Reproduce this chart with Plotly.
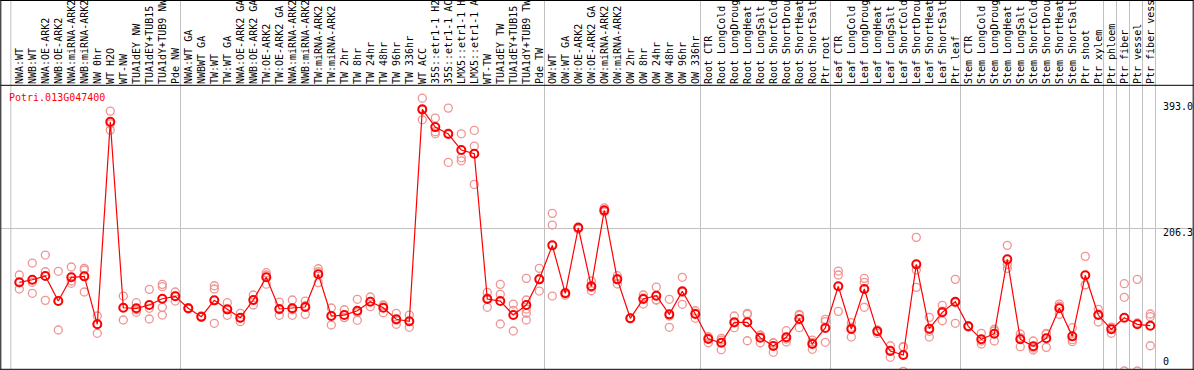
import plotly.graph_objects as go

# ---------------- data ----------------
gene_id = "Potri.013G047400"

categories = [
    "NWA:WT", "NWB:WT", "NWA:OE-ARK2", "NWB:OE-ARK2", "NWA:miRNA-ARK2", "NWB:miRNA-ARK2",
    "NW 0hr", "WT H2O", "WT-NW", "TUA1dEY NW", "TUA1dEY+TUB15", "TUA1dY+TUB9 NW", "Pde NW",
    "NWA:WT GA", "NWBWT GA", "TW:WT", "TW:WT GA", "NWA:OE-ARK2 GA", "NWB:OE-ARK2 GA",
    "TW:OE-ARK2", "TW:OE-ARK2 GA", "NWA:miRNA-ARK2", "NWB:miRNA-ARK2", "TW:miRNA-ARK2",
    "TW:miRNA-ARK2", "TW 2hr", "TW 8hr", "TW 24hr", "TW 48hr", "TW 96hr", "TW 336hr",
    "WT ACC", "35S::etr1-1 H2", "35S::etr1-1 AC", "LMX5::etr1-1 H", "LMX5::etr1-1 A",
    "WT-TW", "TUA1dEY TW", "TUA1dEY+TUB15", "TUA1dY+TUB9 TW", "Pde TW",
    "OW:WT", "OW:WT GA", "OW:OE-ARK2", "OW:OE-ARK2 GA", "OW:miRNA-ARK2", "OW:miRNA-ARK2",
    "OW 2hr", "OW 8hr", "OW 24hr", "OW 48hr", "OW 96hr", "OW 336hr",
    "Root CTR", "Root LongCold", "Root LongDroug", "Root LongHeat", "Root LongSalt",
    "Root ShortCold", "Root ShortDrou", "Root ShortHeat", "Root ShortSalt", "Ptr root",
    "Leaf CTR", "Leaf LongCold", "Leaf LongDroug", "Leaf LongHeat", "Leaf LongSalt",
    "Leaf ShortCold", "Leaf ShortDrou", "Leaf ShortHeat", "Leaf ShortSalt", "Ptr leaf",
    "Stem CTR", "Stem LongCold", "Stem LongDroug", "Stem LongHeat", "Stem LongSalt",
    "Stem ShortCold", "Stem ShortDrou", "Stem ShortHeat", "Stem ShortSalt",
    "Ptr shoot", "Ptr xylem", "Ptr phloem", "Ptr fiber", "Ptr vessel", "Ptr fiber vess",
]

mean_values = [
    128.4, 132.1, 137.4, 101.5, 135.6, 137.0, 68.1, 359.1, 91.9, 91.1, 95.8, 104.8, 108.3,
    91.1, 79.0, 102.5, 89.6, 77.6, 103.0, 135.6, 90.1, 91.1, 92.9, 139.9, 80.0, 81.4, 87.6,
    100.5, 91.9, 75.3, 72.4, 376.9, 351.4, 341.4, 318.4, 313.1, 104.4, 101.5, 81.4, 95.8, 132.7,
    181.5, 112.6, 206.8, 122.7, 231.8, 132.7, 76.7, 104.4, 109.2, 82.4, 115.5, 82.9,
    47.0, 41.6, 71.0, 71.0, 48.8, 36.9, 49.4, 75.7, 39.8, 62.8,
    122.7, 61.3, 118.8, 58.0, 29.7, 24.0, 154.2, 61.8, 85.3, 100.5,
    65.2, 46.5, 54.6, 161.4, 46.5, 36.5, 48.0, 91.1, 50.8, 138.5, 81.4,
    60.9, 77.6, 68.1, 66.1,
]

replicate_values = [
    [138.9, 118.8, 127.5], [156.1, 112.6, 128.4], [167.6, 143.6, 102.5], [144.2, 59.9, 101.5],
    [150.4, 127.0, 130.3], [148.5, 146.1, 114.5], [80.0, 55.2, 69.0], [374.4, 347.1, 356.0],
    [108.7, 74.3, 92.0], [99.1, 85.3, 89.0], [118.3, 75.7, 91.1], [125.5, 122.1, 92.5, 81.4],
    [114.5, 101.5, 109.0],
    [92.0, 90.0, 91.0], [80.0, 78.0, 79.0], [123.5, 118.8, 69.5], [99.1, 81.0, 89.0],
    [83.9, 71.8, 77.0], [110.2, 95.8, 103.0], [142.2, 138.9, 125.7], [100.1, 81.0, 89.0],
    [103.0, 81.0, 89.0], [101.5, 82.4, 95.0], [147.9, 143.6, 128.0], [91.5, 67.1, 81.0],
    [89.0, 77.6, 78.0], [104.0, 73.8, 85.0], [107.3, 93.4, 101.0], [95.8, 84.7, 95.0],
    [83.9, 68.1, 74.0], [81.4, 63.8, 72.0], [393.0, 361.9, 376.0], [364.4, 344.7, 341.8],
    [378.7, 342.8, 300.7], [341.8, 307.3, 303.0], [346.7, 324.1, 269.1], [114.0, 92.5, 106.0],
    [125.5, 111.2, 68.5], [97.2, 58.5, 88.0], [134.1, 103.0, 90.0, 84.0, 74.3],
    [148.5, 115.9, 134.0],
    [227.5, 210.7, 108.7], [114.0, 110.0, 113.0], [207.0, 205.0, 208.0], [130.3, 116.3, 121.0],
    [235.5, 229.8, 230.0], [137.9, 126.0, 134.0], [77.0, 76.0, 77.0], [110.2, 97.2, 106.0],
    [121.6, 103.0, 103.0], [104.0, 63.8, 80.0], [135.6, 96.8, 114.0], [87.6, 76.7, 84.0],
    [50.3, 41.6, 49.0], [45.5, 31.6, 48.0], [80.0, 63.2, 70.0], [83.9, 82.4, 44.5],
    [52.7, 41.6, 52.0], [41.6, 27.9, 41.0], [58.9, 42.7, 47.0], [82.4, 63.2, 81.0],
    [45.5, 32.2, 42.0], [75.3, 42.2, 72.0],
    [144.6, 138.9, 86.7], [70.4, 49.8, 64.0], [134.1, 128.4, 92.5], [58.9, 55.0, 60.0],
    [37.3, 20.7, 31.0], [36.0, 35.5, 0.5], [193.0, 146.1, 121.2], [78.1, 49.8, 58.0],
    [95.4, 73.2, 87.0], [132.7, 69.5, 99.0],
    [66.0, 64.0, 66.0], [55.2, 39.8, 44.0], [58.5, 44.1, 61.0], [181.5, 148.5, 154.0],
    [54.2, 35.9, 49.0], [44.1, 31.2, 34.0], [55.2, 35.0, 54.0], [97.2, 82.4, 94.0],
    [63.2, 43.1, 46.0], [165.7, 124.5, 125.0], [89.6, 71.4, 83.0],
    [55.2, 63.0, 64.0], [126.4, 106.9, 1.0], [132.7, 1.0, 70.0], [82.9, 79.0, 37.3],
]

y_tick_values = [393.0, 206.3, 0]
y_tick_labels = ["393.0", "206.3", "0"]
group_boundaries = [-0.65, 12.4, 40.4, 52.4, 62.4, 72.4, 83.4, 84.4, 85.4, 86.4, 87.4]

# ---------------- layout geometry ----------------
W, H = 1194, 370
ML, MR, MT, MB = 1, 1, 85, 1
PW, PH = W - ML - MR, H - MT - MB
XR = [-1.408, 90.285]
YR = [3.88, 411.9]
FONT = "DejaVu Sans Mono"
GRID = "#c0c0c0"


def px_x(px):
    return (px - ML) / PW


def px_y(py):
    return (H - MB - py) / PH


def idx_to_paper(v):
    return (v - XR[0]) / (XR[1] - XR[0])


def val_to_paper(v):
    return (v - YR[0]) / (YR[1] - YR[0])


idx = list(range(len(categories)))
rep_x = [i for i, reps in enumerate(replicate_values) for _ in reps]
rep_y = [v for reps in replicate_values for v in reps]

fig = go.Figure()
fig.add_trace(go.Scatter(
    x=rep_x, y=rep_y, mode="markers",
    marker=dict(symbol="circle-open", size=8, color="#f09494", line=dict(width=1.3)),
    hoverinfo="skip", showlegend=False,
))
fig.add_trace(go.Scatter(
    x=idx, y=mean_values, mode="lines+markers",
    line=dict(color="#ff0000", width=1.2),
    marker=dict(symbol="circle-open", size=8, color="#ff0000", line=dict(width=2)),
    showlegend=False,
))

shapes = []
top_paper = px_y(0)
for b in group_boundaries:
    xp = idx_to_paper(b)
    shapes.append(dict(type="line", xref="paper", yref="paper", x0=xp, x1=xp, y0=0, y1=top_paper,
                       line=dict(color=GRID, width=1), layer="below"))
# frame and header separator
for (x0, y0, x1, y1) in [
    (px_x(0.5), px_y(0.5), px_x(1193.5), px_y(0.5)),
    (px_x(0.5), px_y(85.3), px_x(1193.5), px_y(85.3)),
    (px_x(0.5), px_y(369.3), px_x(1193.5), px_y(369.3)),
    (px_x(0.8), px_y(0), px_x(0.8), px_y(370)),
    (px_x(1193.2), px_y(0), px_x(1193.2), px_y(370)),
]:
    shapes.append(dict(type="line", xref="paper", yref="paper", x0=x0, y0=y0, x1=x1, y1=y1,
                       line=dict(color="black", width=1), layer="above"))

annotations = [dict(
    text=gene_id, xref="paper", yref="paper", x=px_x(7.3), y=px_y(97.2),
    xanchor="left", yanchor="middle", showarrow=False,
    font=dict(family=FONT, size=10, color="#ff0000"),
)]
label_shift = {"393.0": -8.6, "206.3": -4.6, "0": 10}
for v, t in zip(y_tick_values, y_tick_labels):
    annotations.append(dict(
        text=t, xref="paper", yref="paper", x=px_x(1160.5), y=val_to_paper(v),
        yshift=label_shift[t],
        xanchor="left", yanchor="middle", showarrow=False,
        font=dict(family=FONT, size=10, color="black"),
    ))

fig.update_layout(
    width=W, height=H,
    margin=dict(l=ML, r=MR, t=MT, b=MB, pad=0),
    paper_bgcolor="white", plot_bgcolor="white",
    showlegend=False,
    xaxis=dict(range=XR, tickmode="array", tickvals=idx, ticktext=categories, side="top",
               tickangle=-90, ticks="", showgrid=False, zeroline=False, showline=False,
               tickfont=dict(family=FONT, size=10, color="black"), automargin=False,
               fixedrange=True),
    yaxis=dict(range=YR, tickmode="array", tickvals=[206.3], showticklabels=False,
               showgrid=True, gridcolor=GRID, gridwidth=1, zeroline=False, showline=False,
               automargin=False, fixedrange=True),
    shapes=shapes, annotations=annotations,
)

fig.write_html(
    "out.html",
    config={"displayModeBar": False, "staticPlot": True},
    post_script="document.body.style.margin='0';document.body.style.padding='0';"
                "document.documentElement.style.overflow='hidden';",
)
